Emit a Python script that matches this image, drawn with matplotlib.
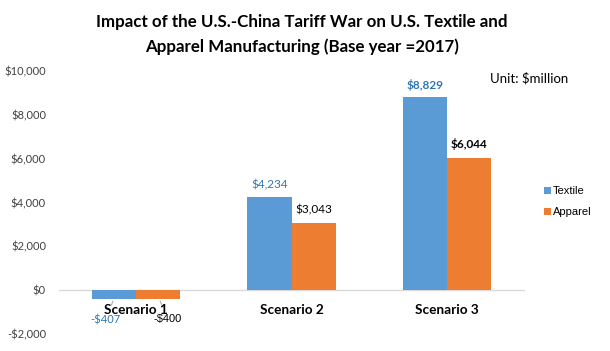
import matplotlib
matplotlib.use("Agg")
import matplotlib.pyplot as plt
import numpy as np

categories = ["Scenario 1", "Scenario 2", "Scenario 3"]
textile = [-407, 4234, 8829]
apparel = [-400, 3043, 6044]
textile_labels = ["-$407", "$4,234", "$8,829"]
apparel_labels = ["-$400", "$3,043", "$6,044"]
yticks = [-2000, 0, 2000, 4000, 6000, 8000, 10000]
ytick_labels = ["-$2,000", "$0", "$2,000", "$4,000", "$6,000", "$8,000", "$10,000"]

BLUE = "#5B9BD5"
ORANGE = "#ED7D31"
LBLUE = "#2E75B6"

fig = plt.figure(figsize=(6.10, 3.51), dpi=100)
ax = fig.add_axes([58.5/610, (351-333.8)/351, (524.5-58.5)/610, (333.8-71)/351])

x = np.arange(len(categories))
w = 0.285
ax.bar(x - w/2, textile, w, color=BLUE, label="Textile", zorder=2)
ax.bar(x + w/2, apparel, w, color=ORANGE, label="Apparel", zorder=2)

ax.set_xlim(-0.5, 2.5)
ax.set_ylim(-2000, 10000)
ax.set_yticks(yticks)
ax.set_yticklabels(ytick_labels, fontsize=8, color="#404040", family="Lato")
ax.tick_params(axis="y", length=0, pad=9)
ax.set_xticks([])
for s in ax.spines.values():
    s.set_visible(False)
ax.axhline(0, color="#D9D9D9", lw=1, zorder=1)

# category labels just below zero line
for i, c in enumerate(categories):
    ax.text(i, -900, c, ha="center", va="center", fontsize=9.8, fontweight="bold",
            family="Lato", color="#000000")

# data labels - Scenario 1 (negative, with leader lines)
ax.annotate(textile_labels[0], xy=(x[0] - 0.149, -502), xytext=(x[0] - 0.20, -1370),
            ha="center", va="center", fontsize=8, color=LBLUE, family="Lato",
            arrowprops=dict(arrowstyle="-", color="#A6A6A6", lw=0.7, shrinkA=5, shrinkB=0))
ax.annotate(apparel_labels[0], xy=(x[0] + 0.154, -502), xytext=(x[0] + 0.205, -1330),
            ha="center", va="center", fontsize=8, color="#000000", family="Liberation Sans",
            arrowprops=dict(arrowstyle="-", color="#A6A6A6", lw=0.7, shrinkA=5, shrinkB=0))
# Scenario 2
ax.text(x[1] - w/2, textile[1] + 550, textile_labels[1], ha="center", va="center",
        fontsize=8.5, color=LBLUE, family="Lato")
ax.text(x[1] + w/2, apparel[1] + 620, apparel_labels[1], ha="center", va="center",
        fontsize=8.5, color="#000000", family="Lato")
# Scenario 3
ax.text(x[2] - w/2, textile[2] + 550, textile_labels[2], ha="center", va="center",
        fontsize=8.5, color=LBLUE, fontweight="bold", family="Lato")
ax.text(x[2] + w/2, apparel[2] + 600, apparel_labels[2], ha="center", va="center",
        fontsize=8.5, color="#000000", fontweight="bold", family="Lato")

fig.text(302/610, 1 - 22/351, "Impact of the U.S.-China Tariff War on U.S. Textile and",
         ha="center", va="center", fontsize=12.2, fontweight="bold", family="Lato")
fig.text(302/610, 1 - 47/351, "Apparel Manufacturing (Base year =2017)",
         ha="center", va="center", fontsize=12.2, fontweight="bold", family="Lato")
fig.text(490/610, 1 - 78/351, "Unit: $million", ha="left", va="center",
         fontsize=9.5, family="Lato", color="#000000")

leg = ax.legend(loc="upper left", bbox_to_anchor=(544/610, 1 - 186/351),
                bbox_transform=fig.transFigure,
                frameon=False, handlelength=0.6, handleheight=0.6,
                handletextpad=0.2, labelspacing=1.0, borderaxespad=0, borderpad=0,
                prop={"family": "Liberation Sans", "size": 8})

fig.savefig("out.png", dpi=100)
